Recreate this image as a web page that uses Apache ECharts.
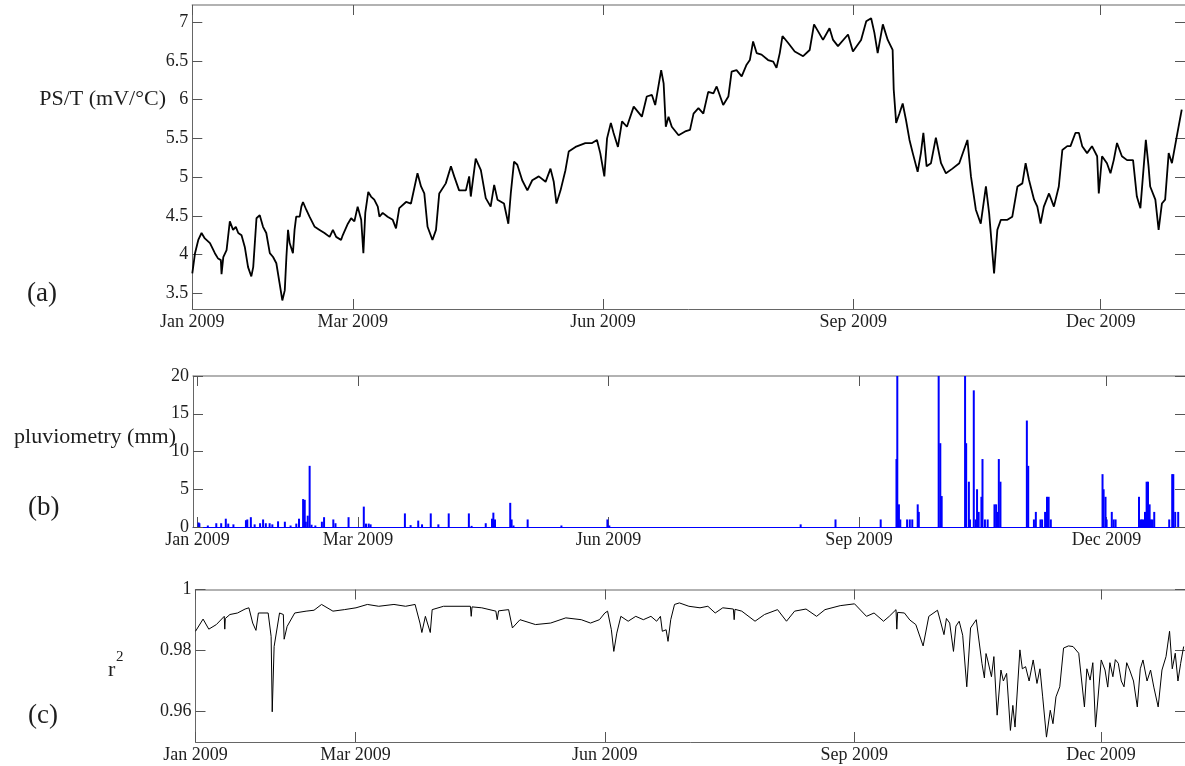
<!DOCTYPE html>
<html>
<head>
<meta charset="utf-8">
<script src="https://cdn.jsdelivr.net/npm/echarts@6/dist/echarts.min.js"></script>
<style>
html,body{margin:0;padding:0;background:#fff;}
#chart{width:1185px;height:766px;}
</style>
</head>
<body>
<div id="chart"></div>
<script>
// ---- tick labels (x: days since 1 Jan 2009) ----
const tickDays = [0, 59, 151, 243, 334];
const tickLabels = ['Jan 2009', 'Mar 2009', 'Jun 2009', 'Sep 2009', 'Dec 2009'];
const psTicks = [3.5, 4, 4.5, 5, 5.5, 6, 6.5, 7];
const rainTicks = [0, 5, 10, 15, 20];
const r2Ticks = [0.96, 0.98, 1];

// ---- (a) PS/T (mV/°C): [day, value] ----
const psT = [[0,3.76],[1,4.02],[2.2,4.19],[3.4,4.28],[4.6,4.21],[6.5,4.15],[8.3,4.02],[9.5,3.95],[10.5,3.93],[10.75,3.75],[11.4,3.97],[12.6,4.06],[13.8,4.43],[15,4.32],[16,4.36],[16.9,4.28],[18.1,4.25],[19.3,4.10],[20.5,3.84],[21.7,3.72],[22.4,3.84],[23.6,4.47],[24.8,4.51],[26,4.36],[27.2,4.28],[28.5,4.02],[29.7,3.97],[30.9,3.89],[32.1,3.63],[33.1,3.41],[34,3.54],[34.6,3.97],[35.2,4.32],[35.8,4.15],[37,4.02],[37.6,4.32],[38.2,4.49],[39.5,4.49],[40.1,4.62],[40.7,4.68],[41.9,4.58],[43.1,4.49],[45,4.36],[46.8,4.32],[48.6,4.28],[50.5,4.23],[51.7,4.32],[52.9,4.23],[54.7,4.19],[55.3,4.25],[57.2,4.40],[58.4,4.47],[59.6,4.43],[60.8,4.62],[62.1,4.45],[62.9,4.02],[63.6,4.54],[64.7,4.81],[65.7,4.75],[66.9,4.71],[68.2,4.62],[68.8,4.49],[70,4.54],[71.8,4.49],[73.7,4.45],[74.9,4.34],[76.1,4.60],[78.6,4.68],[80.4,4.66],[82.8,5.05],[84.1,4.88],[85.3,4.79],[86.5,4.36],[88.3,4.19],[89.6,4.32],[90.8,4.79],[93.2,4.92],[95.1,5.14],[96.3,5.01],[98.1,4.83],[100.6,4.83],[101.8,5.01],[102.4,4.75],[104.2,5.24],[106.1,5.09],[107.9,4.73],[109.7,4.62],[111,4.90],[112.2,4.71],[114.6,4.66],[116.2,4.40],[117.1,4.79],[118.3,5.20],[119.5,5.16],[121.3,4.96],[123.2,4.83],[125,4.96],[127.4,5.01],[129.9,4.94],[131.7,5.11],[132.9,4.94],[133.9,4.66],[135.4,4.83],[137.2,5.09],[138.4,5.33],[140.9,5.39],[144.5,5.44],[147,5.44],[148.8,5.48],[150,5.31],[151.5,5.01],[152.5,5.50],[153.9,5.70],[154.9,5.57],[156.5,5.39],[158,5.72],[159.8,5.65],[162.3,5.91],[165.3,5.78],[167.1,6.04],[169,6.06],[170.2,5.93],[172.4,6.38],[173.3,6.21],[174.1,5.65],[175.1,5.78],[176.3,5.65],[178.8,5.54],[181.2,5.59],[183,5.61],[184.3,5.82],[186.1,5.89],[187.9,5.82],[189.7,6.10],[191.6,6.08],[192.8,6.17],[195.2,5.93],[197.1,6.04],[198.3,6.36],[200.1,6.38],[202,6.30],[203.8,6.45],[205,6.51],[206.2,6.75],[207.5,6.60],[209.3,6.58],[211.7,6.51],[213.6,6.49],[214.8,6.41],[216,6.60],[217,6.82],[219.1,6.73],[221.5,6.62],[224.6,6.56],[227,6.64],[228.6,6.97],[230.1,6.88],[231.9,6.77],[234.3,6.92],[235.6,6.77],[237.4,6.69],[241.1,6.84],[242.9,6.62],[245.9,6.77],[247.8,7.01],[249.6,7.05],[250.8,6.86],[252,6.60],[253.9,6.97],[255.7,6.77],[257.5,6.64],[257.9,6.13],[258.8,5.70],[260,5.82],[261.2,5.95],[262.4,5.74],[263.7,5.48],[264.9,5.31],[266.7,5.07],[267.9,5.31],[268.8,5.57],[270,5.14],[271.6,5.18],[273.4,5.51],[275.3,5.18],[277.1,5.05],[279.5,5.11],[282,5.18],[285,5.48],[286.3,5.01],[288.1,4.58],[289.9,4.40],[291.8,4.88],[293,4.53],[294.8,3.76],[296,4.32],[297.3,4.45],[299.7,4.45],[301.5,4.49],[303.4,4.88],[305.2,4.92],[306.4,5.18],[307.6,4.97],[309.5,4.71],[310.7,4.62],[311.9,4.40],[313.1,4.62],[315,4.79],[316.8,4.62],[318.6,4.88],[319.9,5.35],[321.7,5.40],[322.9,5.40],[324.7,5.57],[326,5.57],[327.2,5.40],[329,5.31],[330.8,5.40],[332.7,5.27],[333.3,4.79],[334.5,5.27],[336.3,5.18],[337.6,5.05],[338.8,5.22],[340,5.44],[341.8,5.27],[343.7,5.22],[345.9,5.22],[347.3,4.75],[348.6,4.60],[350.6,5.48],[351.6,5.14],[352.2,4.88],[354.1,4.71],[355.3,4.32],[356.5,4.66],[357.7,4.71],[359,5.31],[360.2,5.18],[362,5.53],[363.8,5.87]];

// ---- (b) pluviometry (mm): [day, mm] ----
const rain = [[0.4,0.6],[0.7,0.5],[3.8,0.2],[6.9,0.5],[8.7,0.5],[10.4,1.1],[11.3,0.45],[13.2,0.35],[17.8,0.9],[18.3,1.0],[19.6,1.3],[21,0.35],[23,0.5],[24.1,1.0],[25.1,0.5],[26.5,0.5],[27.5,0.35],[29.6,0.75],[32.1,0.7],[34.2,0.2],[36.3,0.45],[37.3,1.1],[38.8,3.7],[39.4,3.6],[39.8,0.7],[40.5,1.5],[41.2,8.1],[41.9,0.3],[43.3,0.2],[45.7,0.7],[46.5,1.3],[49.9,1.0],[50.7,0.5],[55.5,1.3],[61.1,2.7],[61.9,0.45],[62.9,0.45],[63.6,0.35],[76.2,1.8],[78.3,0.25],[81.1,0.85],[82.5,0.35],[85.7,1.8],[88.5,0.35],[92.3,1.8],[99.7,1.8],[100.7,0.15],[105.9,0.5],[108.2,1.1],[108.7,1.9],[109.3,1.0],[114.9,3.2],[115.4,1.0],[116.1,0.2],[121.3,1.0],[133.7,0.2],[150.6,1.0],[151.3,0.2],[221.6,0.35],[234.4,1.0],[251,1.0],[256.8,9.0],[257.1,25],[257.7,3.0],[258.2,1.0],[260.7,1.0],[261.7,1.0],[262.6,1.0],[264.6,3.0],[265,2.0],[272.3,25],[272.9,11.1],[273.4,4.1],[282,25],[282.4,11.1],[283.4,6.0],[283.8,1.0],[285.2,18.1],[285.9,1.0],[286.4,5.0],[287,2.0],[288,4.0],[288.4,9.0],[289.3,1.0],[290.3,1.0],[292.8,3.0],[293.4,3.0],[293.9,2.0],[294.4,9.0],[295,6.0],[304.7,14.1],[305.2,8.1],[307.3,1.0],[308,2.0],[309.7,1.0],[310.3,1.0],[311.4,2.0],[312.1,4.0],[312.7,4.0],[313.5,1.0],[332.5,7.0],[332.9,5.0],[333.6,4.0],[334,1.0],[335.9,2.0],[336.6,1.0],[337.3,1.0],[345.9,4.0],[346.5,1.0],[347,1.0],[347.6,1.0],[348.1,2.0],[348.7,6.0],[349.2,6.0],[349.8,3.0],[350.3,1.0],[350.9,1.0],[351.5,2.0],[357,1.0],[358.1,7.0],[358.5,7.0],[359.2,2.0],[360.3,2.0]];

// ---- (c) r^2: [day, value] ----
const r2 = [[0,0.9863],[2.8,0.9903],[4.9,0.9870],[7.7,0.9885],[10.6,0.9912],[10.8,0.9870],[11,0.9905],[12.7,0.9918],[15.5,0.9923],[18.3,0.9936],[19.7,0.9940],[21.1,0.9890],[22.3,0.9866],[23.2,0.9923],[26.8,0.9923],[27.9,0.9846],[28.3,0.9599],[29,0.9813],[31,0.9923],[32.4,0.9918],[32.7,0.9837],[33.8,0.9879],[36.6,0.9923],[40.8,0.9929],[43.7,0.9932],[46.5,0.9951],[50.7,0.9929],[54.9,0.9934],[59.2,0.9940],[63.4,0.9951],[67.6,0.9945],[73.2,0.9951],[77.5,0.9945],[81,0.9951],[82.8,0.9890],[83.5,0.9859],[84.8,0.9912],[86.6,0.9859],[87.3,0.9934],[91.5,0.9945],[97.2,0.9945],[101.4,0.9945],[101.7,0.9912],[102,0.9943],[105.6,0.9940],[110.8,0.9929],[111.3,0.9901],[111.8,0.9930],[115.5,0.9934],[116.9,0.9874],[119.7,0.9901],[125.4,0.9885],[131,0.9890],[136.6,0.9907],[142.3,0.9901],[145.7,0.9890],[149,0.9901],[151,0.9923],[152,0.9929],[153.4,0.9868],[154.3,0.9797],[155.4,0.9857],[156.9,0.9912],[159.6,0.9896],[162.4,0.9912],[165.2,0.9901],[168,0.9912],[170.1,0.9896],[171.5,0.9912],[172.2,0.9863],[173.6,0.9868],[174.3,0.9830],[175.3,0.9901],[176.7,0.9951],[178.5,0.9956],[182,0.9945],[186.1,0.9940],[189,0.9945],[191.7,0.9923],[194.5,0.9940],[198.4,0.9936],[198.7,0.9901],[199,0.9935],[201.5,0.9929],[206.4,0.9896],[209.9,0.9918],[214.7,0.9934],[218,0.9896],[221,0.9929],[225.2,0.9936],[229.1,0.9912],[232.2,0.9934],[237.8,0.9947],[243.1,0.9953],[247.5,0.9912],[250.3,0.9923],[253.8,0.9896],[255.9,0.9912],[258.4,0.9934],[258.7,0.9870],[259,0.9925],[261.5,0.9923],[263.5,0.9900],[265.7,0.9885],[268.4,0.9815],[270.5,0.9912],[273.7,0.9932],[276.1,0.9852],[277,0.9905],[278.2,0.9890],[279.6,0.9797],[280.5,0.9880],[281.7,0.9896],[283,0.9850],[284.5,0.9681],[285.9,0.9874],[288,0.9901],[290.1,0.9758],[291,0.9710],[291.6,0.9790],[292.2,0.9769],[293.6,0.9714],[294.5,0.9780],[295.7,0.9588],[297.1,0.9736],[298,0.9700],[299.2,0.9725],[300.6,0.9538],[301.5,0.9620],[302.3,0.9549],[304.1,0.9802],[305,0.9740],[306.2,0.9747],[307.5,0.9700],[309,0.9769],[310.4,0.9692],[311.5,0.9740],[312.5,0.9648],[313.9,0.9516],[315.3,0.9604],[316.3,0.9560],[317.4,0.9648],[318.8,0.9681],[320.2,0.9808],[322,0.9815],[323.7,0.9813],[325.8,0.9791],[327.9,0.9615],[328.8,0.9740],[330,0.9703],[331,0.9760],[332,0.9549],[334.1,0.9769],[335.5,0.9736],[336.5,0.9680],[337.3,0.9760],[338.4,0.9714],[339.3,0.9770],[340.4,0.9758],[341.5,0.9700],[342.5,0.9681],[343.5,0.9760],[344.6,0.9736],[346,0.9700],[347.4,0.9615],[348.5,0.9740],[349.5,0.9769],[351,0.9700],[352.3,0.9736],[353.5,0.9680],[355.1,0.9615],[356.5,0.9736],[358,0.9780],[359.3,0.9863],[360.3,0.9740],[361.4,0.9791],[362.4,0.9700],[363.4,0.9758],[364.5,0.9813]];

const FONT = '"Liberation Serif", "Times New Roman", serif';
const TXT = '#1e1e1e';

function xPair(gi, min, max, baseColor) {
  const common = {
    type: 'value', gridIndex: gi, min: min, max: max,
    splitLine: { show: false },
    axisTick: { show: true, inside: true, length: 10, customValues: tickDays, lineStyle: { color: '#555', width: 1 } }
  };
  return [
    Object.assign({}, common, {
      position: 'bottom',
      axisLine: { show: true, onZero: false, lineStyle: { color: baseColor || '#666', width: 1 } },
      axisLabel: {
        show: true, customValues: tickDays, margin: 4,
        formatter: v => tickLabels[tickDays.indexOf(Math.round(v))] || '',
        fontFamily: FONT, fontSize: 18, color: TXT
      }
    }),
    Object.assign({}, common, {
      position: 'top',
      axisLine: { show: true, onZero: false, lineStyle: { color: '#999', width: 1.5 } },
      axisLabel: { show: false }
    })
  ];
}
function yPair(gi, min, max, ticks) {
  const tick = { show: true, inside: true, length: 10, customValues: ticks, lineStyle: { color: '#555', width: 1 } };
  return [
    {
      type: 'value', gridIndex: gi, min: min, max: max, position: 'left',
      splitLine: { show: false },
      axisLine: { show: true, onZero: false, lineStyle: { color: '#666', width: 1 } },
      axisTick: tick,
      axisLabel: { customValues: ticks, margin: 4, fontFamily: FONT, fontSize: 18, color: TXT }
    },
    {
      type: 'value', gridIndex: gi, min: min, max: max, position: 'right',
      splitLine: { show: false },
      axisLine: { show: false, onZero: false },
      axisTick: tick,
      axisLabel: { show: false }
    }
  ];
}

const chart = echarts.init(document.getElementById('chart'), null, { renderer: 'canvas' });
chart.setOption({
  animation: false,
  backgroundColor: '#fff',
  grid: [
    { left: 192.3, top: 5, width: 995.7, height: 304 },
    { left: 193, top: 376, width: 995, height: 151 },
    { left: 195.5, top: 589.5, width: 991, height: 152.5 }
  ],
  xAxis: [].concat(
    xPair(0, 0, 365),
    xPair(1, -1.65, 362.8, '#0000ff'),
    xPair(2, 0, 365)
  ),
  yAxis: [].concat(
    yPair(0, 3.3, 7.22, psTicks),
    yPair(1, 0, 20, rainTicks),
    yPair(2, 0.95, 1.0, r2Ticks)
  ),
  series: [
    {
      type: 'line', xAxisIndex: 0, yAxisIndex: 0, data: psT,
      showSymbol: false, lineStyle: { color: '#000', width: 1.8 }, z: 3
    },
    {
      type: 'bar', xAxisIndex: 2, yAxisIndex: 2, data: rain,
      barWidth: 2, clip: true, itemStyle: { color: '#0000ff' }, z: 3
    },
    {
      type: 'line', xAxisIndex: 4, yAxisIndex: 4, data: r2,
      showSymbol: false, lineStyle: { color: '#000', width: 1 }, z: 3
    }
  ],
  graphic: [
    { type: 'text', x: 166, y: 99, style: { text: 'PS/T (mV/°C)', textAlign: 'right', textVerticalAlign: 'middle', font: '22px ' + FONT, fill: TXT } },
    { type: 'text', x: 27, y: 293.5, style: { text: '(a)', textAlign: 'left', textVerticalAlign: 'middle', font: '27px ' + FONT, fill: TXT } },
    { type: 'text', x: 176, y: 437, style: { text: 'pluviometry (mm)', textAlign: 'right', textVerticalAlign: 'middle', font: '22px ' + FONT, fill: TXT } },
    { type: 'text', x: 28, y: 508, style: { text: '(b)', textAlign: 'left', textVerticalAlign: 'middle', font: '27px ' + FONT, fill: TXT } },
    { type: 'text', x: 108, y: 670, style: { text: 'r', textAlign: 'left', textVerticalAlign: 'middle', font: '22px ' + FONT, fill: TXT } },
    { type: 'text', x: 116, y: 657, style: { text: '2', textAlign: 'left', textVerticalAlign: 'middle', font: '15px ' + FONT, fill: TXT } },
    { type: 'text', x: 28, y: 716, style: { text: '(c)', textAlign: 'left', textVerticalAlign: 'middle', font: '27px ' + FONT, fill: TXT } }
  ]
});
</script>
</body>
</html>
